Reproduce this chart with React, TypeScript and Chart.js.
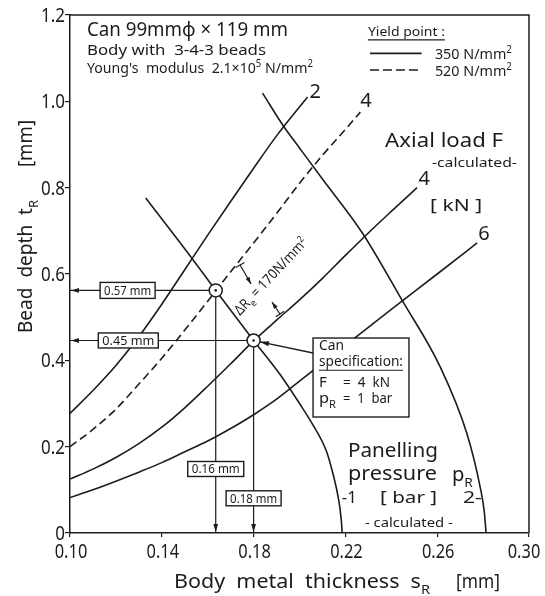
import { useEffect, useRef } from "react";
import { Chart, registerables } from "chart.js";
Chart.register(...registerables);

const FONT = "'Noto Sans', 'DejaVu Sans', sans-serif";
const INK = "#1c1c1c";

// Axes
const xTickValues = [0.10, 0.14, 0.18, 0.22, 0.26, 0.30];
const xTickLabels = ["0.10", "0.14", "0.18", "0.22", "0.26", "0.30"];
const yTickValues = [0, 0.2, 0.4, 0.6, 0.8, 1.0, 1.2];
const yTickLabels = ["0", "0.2", "0.4", "0.6", "0.8", "1.0", "1.2"];

// Axial load F = 2 kN (yield 350 N/mm2)
const f2X = [0.10, 0.11, 0.12, 0.13, 0.14, 0.15, 0.16, 0.17, 0.18, 0.19, 0.2035];
const f2Y = [0.277, 0.33, 0.388, 0.455, 0.53, 0.61, 0.69, 0.768, 0.845, 0.92, 1.01];
// Axial load F = 4 kN (yield 520 N/mm2, dashed)
const f4dX = [0.10, 0.11, 0.12, 0.13, 0.14, 0.15, 0.16, 0.17, 0.18, 0.19, 0.20, 0.21, 0.22, 0.2265];
const f4dY = [0.20, 0.24, 0.287, 0.345, 0.405, 0.47, 0.537, 0.605, 0.672, 0.74, 0.81, 0.875, 0.935, 0.975];
// Axial load F = 4 kN (yield 350 N/mm2)
const f4X = [0.10, 0.11, 0.12, 0.13, 0.14, 0.15, 0.16, 0.17, 0.18, 0.19, 0.20, 0.21, 0.22, 0.23, 0.24, 0.2512];
const f4Y = [0.125, 0.148, 0.175, 0.207, 0.245, 0.29, 0.34, 0.392, 0.445, 0.493, 0.54, 0.59, 0.643, 0.695, 0.745, 0.80];
// Axial load F = 6 kN (yield 350 N/mm2)
const f6X = [0.10, 0.11, 0.12, 0.13, 0.14, 0.15, 0.16, 0.17, 0.18, 0.19, 0.20, 0.22, 0.24, 0.26, 0.2774];
const f6Y = [0.082, 0.10, 0.12, 0.141, 0.163, 0.188, 0.213, 0.242, 0.274, 0.31, 0.352, 0.435, 0.518, 0.60, 0.672];
// Panelling pressure pR = 1 bar
const p1X = [0.133, 0.1526, 0.1635, 0.18, 0.1917, 0.2, 0.205, 0.2117, 0.2145, 0.2171, 0.2182, 0.2186];
const p1Y = [0.776, 0.64, 0.562, 0.446, 0.366, 0.30, 0.258, 0.19, 0.139, 0.076, 0.03, 0];
// Panelling pressure pR = 2 bar
const p2X = [0.1839, 0.1932, 0.2, 0.21, 0.2274, 0.2446, 0.2613, 0.2729, 0.2787, 0.2805, 0.2813];
const p2Y = [1.019, 0.941, 0.892, 0.82, 0.695, 0.54, 0.385, 0.231, 0.107, 0.05, 0];

// Operating points (can specification)
const opX = [0.1635, 0.18];
const opY = [0.562, 0.446];
const opLabelsY = ["0.57 mm", "0.45 mm"];
const opLabelsX = ["0.16 mm", "0.18 mm"];

const zip = (xs: number[], ys: number[]) => xs.map((x, i) => ({ x, y: ys[i] }));

type Part = { t: string; sub?: boolean; sup?: boolean };

function rich(
  ctx: CanvasRenderingContext2D,
  parts: Part[],
  x: number,
  y: number,
  size: number,
  opts: { width?: number; scale?: number; align?: "left" | "center" | "right"; rot?: number; underline?: boolean } = {}
) {
  ctx.save();
  const small = size * 0.68;
  let w = 0;
  const ws = parts.map((p) => {
    ctx.font = `${p.sub || p.sup ? small : size}px ${FONT}`;
    const m = ctx.measureText(p.t).width;
    w += m;
    return m;
  });
  const s = opts.width ? opts.width / w : opts.scale ?? 1;
  ctx.translate(x, y);
  if (opts.rot) ctx.rotate(opts.rot);
  ctx.scale(s, 1);
  let cx = opts.align === "center" ? -w / 2 : opts.align === "right" ? -w : 0;
  const x0 = cx;
  ctx.textAlign = "left";
  ctx.textBaseline = "alphabetic";
  ctx.fillStyle = INK;
  parts.forEach((p, i) => {
    ctx.font = `${p.sub || p.sup ? small : size}px ${FONT}`;
    const dy = p.sub ? size * 0.3 : p.sup ? -size * 0.38 : 0;
    ctx.fillText(p.t, cx, dy);
    cx += ws[i];
  });
  if (opts.underline) {
    ctx.strokeStyle = INK;
    ctx.lineWidth = 1.1;
    ctx.beginPath();
    ctx.moveTo(x0, size * 0.3);
    ctx.lineTo(cx, size * 0.3);
    ctx.stroke();
  }
  ctx.restore();
}

function arrowHead(ctx: CanvasRenderingContext2D, tx: number, ty: number, ang: number, len = 8, half = 2.4) {
  ctx.save();
  ctx.translate(tx, ty);
  ctx.rotate(ang);
  ctx.fillStyle = INK;
  ctx.beginPath();
  ctx.moveTo(0, 0);
  ctx.lineTo(-len, -half);
  ctx.lineTo(-len, half);
  ctx.closePath();
  ctx.fill();
  ctx.restore();
}

function labelBox(ctx: CanvasRenderingContext2D, text: string, cx: number, cy: number, w: number, h: number) {
  ctx.save();
  ctx.fillStyle = "#fff";
  ctx.strokeStyle = INK;
  ctx.lineWidth = 1.4;
  ctx.fillRect(cx - w / 2, cy - h / 2, w, h);
  ctx.strokeRect(cx - w / 2, cy - h / 2, w, h);
  ctx.restore();
  rich(ctx, [{ t: text }], cx, cy + 4.5, 13, { width: w - 8, align: "center" });
}

const annotations = {
  id: "annotations",
  afterDatasetsDraw(chart: any) {
    const ctx: CanvasRenderingContext2D = chart.ctx;
    const xs = chart.scales.x;
    const ys = chart.scales.y;
    const ca = chart.chartArea;
    const at = (xv: number, yv: number): [number, number] => [xs.getPixelForValue(xv), ys.getPixelForValue(yv)];

    ctx.save();
    ctx.strokeStyle = INK;
    ctx.lineWidth = 1.5;
    // frame top & right
    ctx.beginPath();
    ctx.moveTo(ca.left, ca.top);
    ctx.lineTo(ca.right, ca.top);
    ctx.lineTo(ca.right, ca.bottom);
    ctx.stroke();

    // tick labels (condensed lettering) taken from the scales' own ticks
    xs.ticks.forEach((t: any, i: number) => {
      const px = xs.getPixelForValue(t.value);
      const half = 18;
      rich(ctx, [{ t: xTickLabels[i] }], Math.min(px + 1, chart.width - half - 3), ca.bottom + 25, 20, { scale: 0.82, align: "center" });
    });
    ys.ticks.forEach((t: any, i: number) => {
      const py = ys.getPixelForValue(t.value);
      rich(ctx, [{ t: yTickLabels[i] }], ca.left - 5, py + 7, 20, { scale: 0.85, align: "right" });
    });

    // arrowheads of guide lines
    opY.forEach((v) => arrowHead(ctx, ca.left + 1, ys.getPixelForValue(v), Math.PI));
    opX.forEach((v) => arrowHead(ctx, xs.getPixelForValue(v), ca.bottom - 1, Math.PI / 2));

    // boxes on guide lines
    labelBox(ctx, opLabelsY[0], xs.getPixelForValue(0.1251), ys.getPixelForValue(opY[0]), 55, 16);
    labelBox(ctx, opLabelsY[1], xs.getPixelForValue(0.1254), ys.getPixelForValue(opY[1]), 60, 15);
    labelBox(ctx, opLabelsX[0], xs.getPixelForValue(opX[0]), ys.getPixelForValue(0.1483), 56, 15);
    labelBox(ctx, opLabelsX[1], xs.getPixelForValue(opX[1]), ys.getPixelForValue(0.0804), 55, 15);

    // header text
    let p = at(0.1074, 1.1513);
    rich(ctx, [{ t: "Can 99mm\u03C6 \u00D7 119 mm" }], p[0], p[1], 20, { width: 201 });
    p = at(0.1074, 1.1073);
    rich(ctx, [{ t: "Body with  3-4-3 beads" }], p[0], p[1], 15, { width: 179 });
    p = at(0.1074, 1.0667);
    rich(ctx, [{ t: "Young's  modulus  2.1\u00D710" }, { t: "5", sup: true }, { t: " N/mm" }, { t: "2", sup: true }], p[0], p[1], 15, { width: 226 });

    // legend
    p = at(0.2298, 1.1513);
    rich(ctx, [{ t: "Yield point :" }], p[0], p[1], 13, { width: 77, underline: true });
    const l1a = at(0.2307, 1.1112), l1b = at(0.2532, 1.1112);
    ctx.lineWidth = 1.6;
    ctx.beginPath(); ctx.moveTo(l1a[0], l1a[1]); ctx.lineTo(l1b[0], l1b[1]); ctx.stroke();
    const l2a = at(0.2307, 1.0725), l2b = at(0.2532, 1.0725);
    ctx.setLineDash([9, 4]);
    ctx.beginPath(); ctx.moveTo(l2a[0], l2a[1]); ctx.lineTo(l2b[0], l2b[1]); ctx.stroke();
    ctx.setLineDash([]);
    p = at(0.2590, 1.098);
    rich(ctx, [{ t: "350 N/mm" }, { t: "2", sup: true }], p[0], p[1], 15, { width: 77 });
    p = at(0.2590, 1.0586);
    rich(ctx, [{ t: "520 N/mm" }, { t: "2", sup: true }], p[0], p[1], 15, { width: 77 });

    // curve labels
    p = at(0.2068, 1.0069); rich(ctx, [{ t: "2" }], p[0], p[1], 20, { align: "center" });
    p = at(0.2290, 0.9875); rich(ctx, [{ t: "4" }], p[0], p[1], 20, { align: "center" });
    p = at(0.2543, 0.8061); rich(ctx, [{ t: "4" }], p[0], p[1], 20, { align: "center" });
    p = at(0.2804, 0.6787); rich(ctx, [{ t: "6" }], p[0], p[1], 20, { align: "center" });

    p = at(0.2373, 0.8953); rich(ctx, [{ t: "Axial load F" }], p[0], p[1], 20, { width: 118 });
    p = at(0.2577, 0.849); rich(ctx, [{ t: "-calculated-" }], p[0], p[1], 12, { width: 85 });
    p = at(0.2569, 0.7459); rich(ctx, [{ t: "[ kN ]" }], p[0], p[1], 17, { width: 52 });

    // panelling pressure text
    p = at(0.2211, 0.1767); rich(ctx, [{ t: "Panelling" }], p[0], p[1], 19, { width: 90 });
    p = at(0.2211, 0.1228); rich(ctx, [{ t: "pressure" }], p[0], p[1], 19, { width: 89 });
    p = at(0.2664, 0.1205); rich(ctx, [{ t: "p" }, { t: "R", sub: true }], p[0], p[1], 19, { width: 21 });
    p = at(0.2184, 0.0695); rich(ctx, [{ t: "-1" }], p[0], p[1], 17, { width: 15 });
    p = at(0.2351, 0.0695); rich(ctx, [{ t: "[ bar ]" }], p[0], p[1], 17, { width: 57 });
    p = at(0.2712, 0.0695); rich(ctx, [{ t: "2-" }], p[0], p[1], 17, { width: 19 });
    p = at(0.2285, 0.0139); rich(ctx, [{ t: "- calculated -" }], p[0], p[1], 12, { width: 88 });

    // can specification box
    const b1 = at(0.2059, 0.4517), b2 = at(0.2477, 0.2687);
    // leader to operating point
    const ls = at(0.2059, 0.417);
    const c2 = at(opX[1], opY[1]);
    const ang = Math.atan2(c2[1] - ls[1], c2[0] - ls[0]);
    const tip: [number, number] = [c2[0] - Math.cos(ang) * 6.5, c2[1] - Math.sin(ang) * 6.5];
    ctx.lineWidth = 1.3;
    ctx.beginPath(); ctx.moveTo(ls[0], ls[1]); ctx.lineTo(tip[0], tip[1]); ctx.stroke();
    arrowHead(ctx, tip[0], tip[1], ang, 9, 2.6);
    ctx.fillStyle = "#fff";
    ctx.fillRect(b1[0], b1[1], b2[0] - b1[0], b2[1] - b1[1]);
    ctx.lineWidth = 1.4;
    ctx.strokeRect(b1[0], b1[1], b2[0] - b1[0], b2[1] - b1[1]);
    p = at(0.2085, 0.4239); rich(ctx, [{ t: "Can" }], p[0], p[1], 15, { width: 25 });
    p = at(0.2085, 0.3875); rich(ctx, [{ t: "specification:" }], p[0], p[1], 15, { width: 84, underline: true });
    p = at(0.2085, 0.3382); rich(ctx, [{ t: "F" }], p[0], p[1], 15);
    p = at(0.2190, 0.3382); rich(ctx, [{ t: "=  4  kN" }], p[0], p[1], 15, { width: 47 });
    p = at(0.2085, 0.3011); rich(ctx, [{ t: "p" }, { t: "R", sub: true }], p[0], p[1], 15, { width: 17 });
    p = at(0.2190, 0.3011); rich(ctx, [{ t: "=  1  bar" }], p[0], p[1], 15, { width: 49 });

    // Delta Re dimension
    const dims: [number, number, number, number][] = [
      [0.1741, 0.6208, 0.1789, 0.5768],
      [0.1915, 0.5073, 0.1880, 0.5351],
    ];
    ctx.lineWidth = 1.2;
    dims.forEach(([x1, y1, x2, y2]) => {
      const a = at(x1, y1), b = at(x2, y2);
      const an = Math.atan2(b[1] - a[1], b[0] - a[0]);
      ctx.beginPath(); ctx.moveTo(a[0], a[1]); ctx.lineTo(b[0], b[1]); ctx.stroke();
      const nx = -Math.sin(an) * 5, ny = Math.cos(an) * 5;
      ctx.beginPath(); ctx.moveTo(a[0] - nx, a[1] - ny); ctx.lineTo(a[0] + nx, a[1] + ny); ctx.stroke();
      arrowHead(ctx, b[0], b[1], an, 7, 2.2);
    });
    p = at(0.1741, 0.5027);
    rich(ctx, [{ t: "\u0394R" }, { t: "e", sub: true }, { t: " = 170N/mm" }, { t: "2", sup: true }], p[0], p[1], 14, { width: 100, rot: -0.82 });

    // axis titles
    rich(ctx, [{ t: "Body  metal  thickness  s" }, { t: "R", sub: true }], 174, 588, 19, { width: 256 });
    rich(ctx, [{ t: "[mm]" }], 456, 588, 19, { width: 44 });
    rich(ctx, [{ t: "Bead  depth  t" }, { t: "R", sub: true }], 32, 333, 19, { width: 133, rot: -Math.PI / 2 });
    rich(ctx, [{ t: "[mm]" }], 32, 167, 19, { width: 47, rot: -Math.PI / 2 });

    ctx.restore();
  },
};

export default function App() {
  const ref = useRef<HTMLCanvasElement | null>(null);
  useEffect(() => {
    document.body.style.margin = "0";
    const canvas = ref.current;
    if (!canvas) return;
    const curve = (label: string, xs: number[], ys: number[], dashed = false) => ({
      label,
      data: zip(xs, ys),
      showLine: true,
      borderColor: INK,
      borderWidth: 1.6,
      borderDash: dashed ? [8, 4.5] : [],
      pointRadius: 0,
      cubicInterpolationMode: "monotone" as const,
      order: 2,
    });
    const guide = (pts: { x: number; y: number }[]) => ({
      label: "guide",
      data: pts,
      showLine: true,
      borderColor: INK,
      borderWidth: 1.2,
      pointRadius: 0,
      order: 3,
    });
    const chart = new Chart(canvas, {
      type: "scatter",
      data: {
        datasets: [
          {
            label: "operating points",
            data: zip(opX, opY),
            pointRadius: 6.5,
            pointBorderWidth: 1.5,
            pointBorderColor: INK,
            pointBackgroundColor: "#fff",
            showLine: false,
            order: 1,
          } as any,
          {
            label: "centres",
            data: zip(opX, opY),
            pointRadius: 1.3,
            pointBorderWidth: 0,
            pointBackgroundColor: INK,
            showLine: false,
            order: 0,
          },
          curve("F = 2 kN", f2X, f2Y),
          curve("F = 4 kN (520)", f4dX, f4dY, true),
          curve("F = 4 kN", f4X, f4Y),
          curve("F = 6 kN", f6X, f6Y),
          curve("pR = 1 bar", p1X, p1Y),
          curve("pR = 2 bar", p2X, p2Y),
          guide([{ x: 0.10, y: opY[0] }, { x: opX[0], y: opY[0] }]),
          guide([{ x: 0.10, y: opY[1] }, { x: opX[1], y: opY[1] }]),
          guide([{ x: opX[0], y: opY[0] }, { x: opX[0], y: 0 }]),
          guide([{ x: opX[1], y: opY[1] }, { x: opX[1], y: 0 }]),
        ],
      },
      options: {
        animation: false,
        responsive: false,
        devicePixelRatio: 1,
        layout: { padding: { top: 15, right: 16, left: 0, bottom: 0 } },
        plugins: { legend: { display: false }, tooltip: { enabled: false } },
        events: [],
        scales: {
          x: {
            type: "linear",
            min: 0.10,
            max: 0.30,
            afterBuildTicks: (s: any) => {
              s.ticks = xTickValues.map((v) => ({ value: v }));
            },
            afterFit: (s: any) => {
              s.height = 63;
              s.paddingLeft = 0;
              s.paddingRight = 0;
            },
            ticks: { display: false },
            grid: { display: true, drawOnChartArea: false, drawTicks: true, tickLength: 4, color: INK, lineWidth: 1.2 },
            border: { display: true, color: INK, width: 1.5 },
          },
          y: {
            type: "linear",
            min: 0,
            max: 1.2,
            afterBuildTicks: (s: any) => {
              s.ticks = yTickValues.map((v) => ({ value: v }));
            },
            afterFit: (s: any) => {
              s.width = 70;
              s.paddingTop = 0;
              s.paddingBottom = 0;
            },
            ticks: { display: false },
            grid: { display: true, drawOnChartArea: false, drawTicks: true, tickLength: 5, color: INK, lineWidth: 1.2 },
            border: { display: true, color: INK, width: 1.5 },
          },
        },
      },
      plugins: [annotations],
    } as any);
    return () => chart.destroy();
  }, []);
  return <canvas ref={ref} width={545} height={596} style={{ display: "block", width: 545, height: 596 }} />;
}
